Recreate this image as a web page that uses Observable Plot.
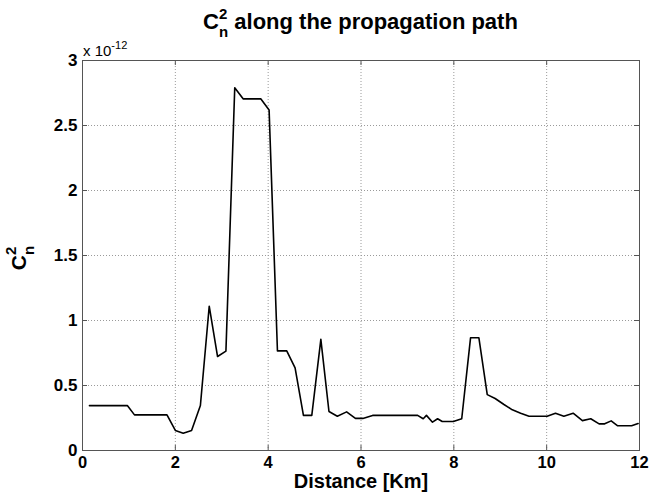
<!DOCTYPE html>
<html>
<head>
<meta charset="utf-8">
<script src="https://cdn.jsdelivr.net/npm/d3@7"></script>
<script src="https://cdn.jsdelivr.net/npm/@observablehq/plot@0.6"></script>
<style>
  html, body { margin: 0; padding: 0; background: #fff; }
  #chart { width: 650px; height: 493px; }
</style>
</head>
<body>
<div id="chart"></div>
<script>
// Distance along the path [km]
const distanceKm = [0.15, 0.97, 1.12, 1.82, 2.00, 2.17, 2.35, 2.54, 2.73, 2.91, 3.09, 3.28, 3.46, 3.84, 4.02, 4.20, 4.40, 4.58, 4.76, 4.94, 5.135, 5.31, 5.49, 5.69, 5.88, 6.04, 6.25, 7.22, 7.34, 7.41, 7.54, 7.65, 7.75, 7.99, 8.17, 8.36, 8.54, 8.72, 8.89, 9.08, 9.26, 9.44, 9.62, 10.01, 10.19, 10.37, 10.57, 10.77, 10.95, 11.13, 11.25, 11.39, 11.53, 11.83, 11.97];
// Cn^2 values in units of 1e-12
const cn2 = [0.345, 0.345, 0.274, 0.274, 0.154, 0.133, 0.154, 0.346, 1.11, 0.723, 0.764, 2.79, 2.705, 2.705, 2.62, 0.766, 0.766, 0.635, 0.27, 0.27, 0.855, 0.30, 0.264, 0.297, 0.247, 0.247, 0.27, 0.27, 0.244, 0.27, 0.218, 0.244, 0.223, 0.223, 0.244, 0.867, 0.867, 0.43, 0.40, 0.354, 0.313, 0.287, 0.264, 0.264, 0.287, 0.264, 0.287, 0.23, 0.244, 0.205, 0.205, 0.228, 0.19, 0.19, 0.208];
const xTicks = [0, 2, 4, 6, 8, 10, 12];
const yTicks = [0, 0.5, 1, 1.5, 2, 2.5, 3];
const titleMain = " along the propagation path";
const xLabel = "Distance [Km]";
const exponentLabel = "-12";

const data = distanceKm.map((d, i) => ({x: d, y: cn2[i]}));
const W = 650, H = 493, mT = 60, mB = 43, mL = 82, mR = 11;
const pw = W - mL - mR, ph = H - mT - mB;
const font = "'Liberation Sans', Arial, Helvetica, sans-serif";
const frameColor = "#555";

const svg = Plot.plot({
  width: W, height: H,
  marginTop: mT, marginBottom: mB, marginLeft: mL, marginRight: mR,
  style: {fontFamily: font, background: "#fff", color: "#000"},
  x: {domain: [0, 12]},
  y: {domain: [0, 3]},
  marks: [
    Plot.gridX(xTicks, {stroke: "#9a9a9a", strokeOpacity: 1, strokeDasharray: "1,2"}),
    Plot.gridY(yTicks, {stroke: "#9a9a9a", strokeOpacity: 1, strokeDasharray: "1,2"}),
    Plot.tickX(xTicks, {x: d => d, insetTop: ph - 5, stroke: frameColor}),
    Plot.tickX(xTicks, {x: d => d, insetBottom: ph - 5, stroke: frameColor}),
    Plot.tickY(yTicks, {y: d => d, insetRight: pw - 5, stroke: frameColor}),
    Plot.tickY(yTicks, {y: d => d, insetLeft: pw - 5, stroke: frameColor}),
    Plot.frame({stroke: frameColor, strokeWidth: 1}),
    Plot.axisX(xTicks, {tickSize: 0, tickPadding: 6, fontSize: 16.5, fontWeight: "bold", label: null, tickFormat: d => String(d)}),
    Plot.axisY(yTicks, {tickSize: 0, tickPadding: 5, fontSize: 17, fontWeight: "bold", label: null, tickFormat: d => String(d)}),
    Plot.line(data, {x: "x", y: "y", stroke: "#000", strokeWidth: 1.6}),
    Plot.text([xLabel], {frameAnchor: "bottom", dy: 37, fontSize: 20, fontWeight: "bold", fill: "#000"})
  ]
});

const s = d3.select(svg);
// Title with C_n^2
const t = s.append("text")
  .attr("x", mL + pw / 2).attr("y", 29)
  .attr("text-anchor", "middle")
  .attr("font-size", 22).attr("font-weight", "bold")
  .attr("font-family", font).attr("fill", "#000");
t.append("tspan").text("C");
t.append("tspan").attr("dy", -10).attr("font-size", 15).text("2");
t.append("tspan").attr("dx", -8.3).attr("dy", 18).attr("font-size", 15).text("n");
t.append("tspan").attr("dy", -8).text(titleMain);

// Y label
const gy = s.append("g").attr("transform", "translate(26,258) rotate(-90)");
const yl = gy.append("text").attr("x", 0).attr("y", 0)
  .attr("text-anchor", "middle")
  .attr("font-size", 21).attr("font-weight", "bold")
  .attr("font-family", font).attr("fill", "#000");
yl.append("tspan").text("C");
yl.append("tspan").attr("dy", -10).attr("font-size", 15).text("2");
yl.append("tspan").attr("dx", -8.3).attr("dy", 18).attr("font-size", 15).text("n");

// Exponent
const ex = s.append("text").attr("x", mL + 1).attr("y", 56)
  .attr("text-anchor", "start")
  .attr("font-size", 15).attr("font-family", font).attr("fill", "#000");
ex.append("tspan").text("x 10");
ex.append("tspan").attr("dy", -7).attr("font-size", 11).text(exponentLabel);

document.getElementById("chart").appendChild(svg);
</script>
</body>
</html>
